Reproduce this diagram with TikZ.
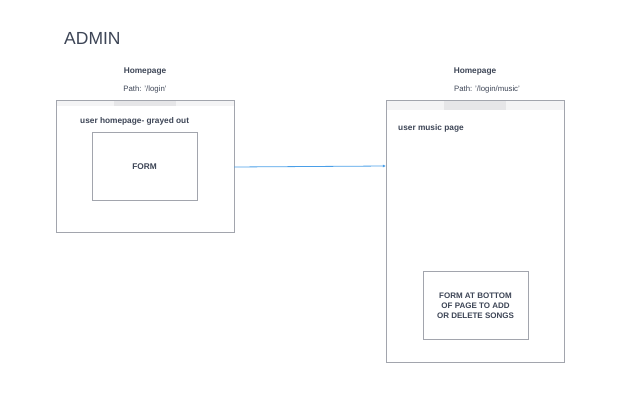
\documentclass[tikz,border=0pt]{standalone}
\usepackage{fontspec}
\setmainfont{Liberation Sans}
\usetikzlibrary{arrows.meta}
\definecolor{ink}{HTML}{3D4556}
\definecolor{frame}{HTML}{A2A5AD}
\definecolor{bar}{HTML}{F4F4F5}
\definecolor{addr}{HTML}{E6E6E8}
\definecolor{link}{HTML}{4A9FE8}
\tikzset{
  win/.style={draw=frame, line width=0.8pt, fill=white},
  formbox/.style={draw=frame, line width=0.8pt, fill=white},
  lbl/.style={text=ink, font=\fontsize{7.8}{9}\selectfont, inner sep=0pt},
  blbl/.style={lbl, font=\fontsize{8.3}{9}\selectfont\bfseries},
  conn/.style={draw=link, line width=0.8pt, -{Latex[length=3pt,width=3pt]}}
}
\begin{document}
\begin{tikzpicture}[x=1pt,y=-1pt]
\useasboundingbox (0,0) rectangle (623,404);
% title
\node[text=ink, font=\fontsize{17.5}{19}\selectfont, anchor=west, inner sep=0pt] (title) at (64,38) {ADMIN};
% left window
\node[blbl] (h1) at (145,72) {Homepage};
\node[lbl] (p1) at (145,89) {Path: '/login'};
\path[win] (56,100) rectangle (234,232);
\path[fill=bar] (56.4,100.4) rectangle (233.6,106);
\path[fill=addr] (114,100.4) rectangle (176,106);
\draw[frame, line width=0.8pt] (56,100) rectangle (234,232);
\node[inner sep=0pt, minimum width=178pt, minimum height=132pt] (w1) at (145,166) {};
\node[blbl, anchor=west] (u1) at (80,121) {user homepage- grayed out};
\node[formbox, minimum width=105pt, minimum height=68pt, inner sep=0pt] (f1) at (144.5,166) {};
\node[blbl] (f1t) at (144.5,167) {FORM};
% right window
\node[blbl] (h2) at (475,72) {Homepage};
\node[lbl] (p2) at (487,89) {Path: '/login/music'};
\path[win] (386,100) rectangle (564,362);
\path[fill=bar] (386.4,100.4) rectangle (563.6,110);
\path[fill=addr] (444,100.4) rectangle (506,110);
\draw[frame, line width=0.8pt] (386,100) rectangle (564,362);
\node[inner sep=0pt, minimum width=178pt, minimum height=262pt] (w2) at (475,231) {};
\node[blbl, anchor=west] (u2) at (398,128) {user music page};
\node[formbox, minimum width=105pt, minimum height=68pt, inner sep=0pt] (f2) at (475.5,305) {};
\node[blbl, align=center, font=\fontsize{8}{10}\selectfont\bfseries] (f2t) at (475.5,306) {FORM AT BOTTOM\\OF PAGE TO ADD\\OR DELETE SONGS};
% connector
\draw[conn] (w1.east |- 0,167) -- (w2.west |- 0,166);
\end{tikzpicture}
\end{document}
